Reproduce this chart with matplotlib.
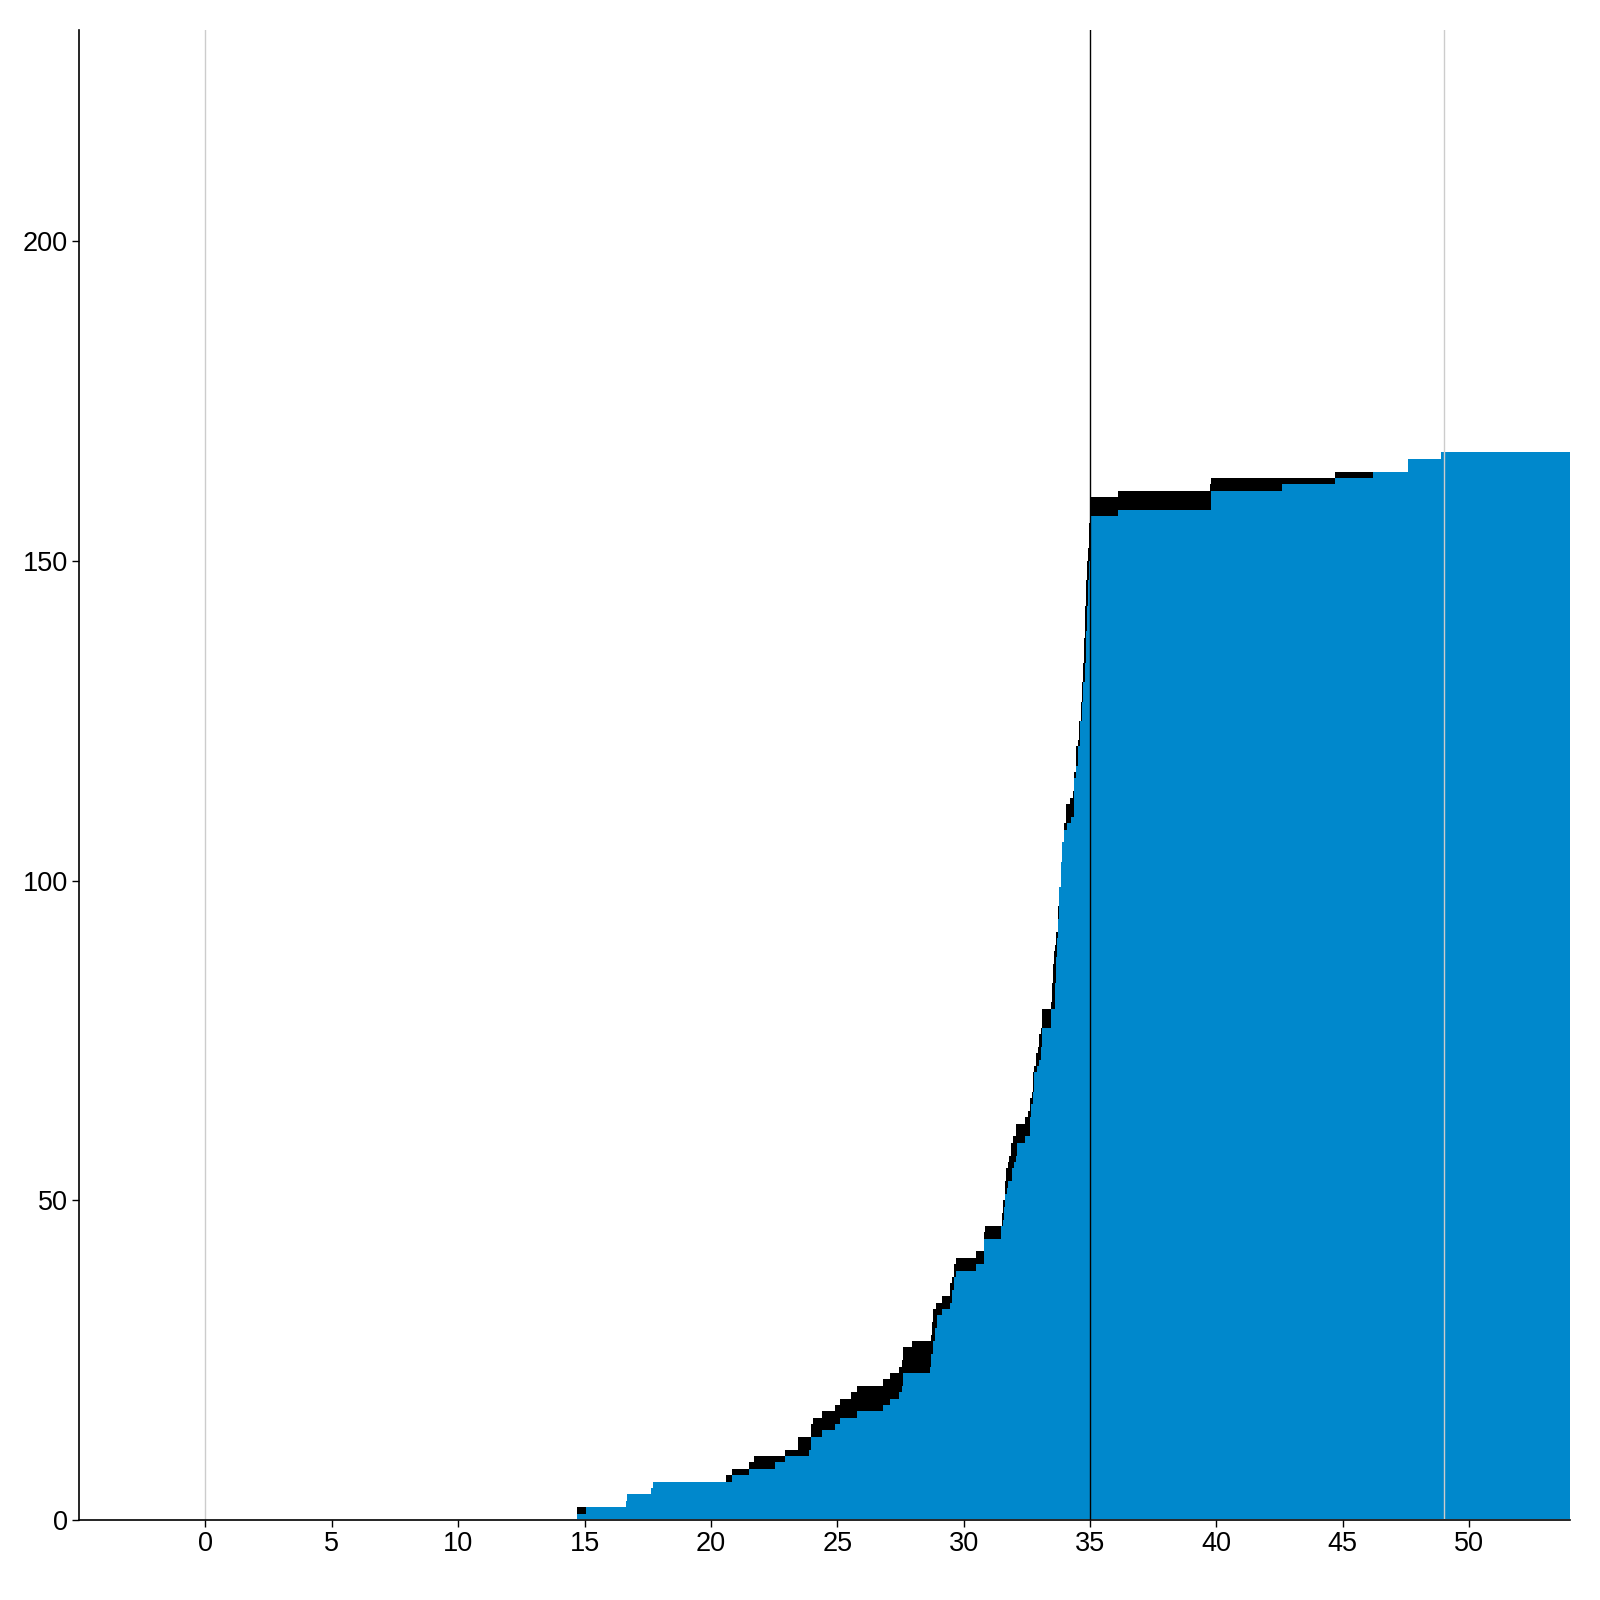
import matplotlib
matplotlib.use("Agg")
import matplotlib.pyplot as plt

plt.rcParams['font.family'] = ['Liberation Sans', 'DejaVu Sans']

# cumulative counts, step positions
blue_x = [14.70, 15.06, 16.64, 16.70, 17.63, 17.70, 20.84, 21.50, 22.54, 22.94,
          23.88, 23.97, 24.40, 24.90, 25.10, 25.80, 26.80, 27.10, 27.45, 27.56,
          27.60, 28.67, 28.70, 28.80, 28.85, 28.95, 29.15, 29.45, 29.55, 29.62,
          29.70, 30.50, 30.81, 31.48, 31.56, 31.60, 31.65, 31.70, 31.76, 31.93,
          31.98, 32.07, 32.12, 32.43, 32.63, 32.68, 32.75, 32.80, 32.90, 32.97,
          33.05, 33.10, 33.46, 33.60, 33.64, 33.68, 33.72, 33.78, 33.86, 33.90,
          33.98, 34.10, 34.26, 34.37, 34.45, 34.53, 34.61, 34.69, 34.73, 34.81,
          34.85, 34.89, 34.93, 34.96, 34.98, 35.00, 36.10, 39.80, 42.60, 44.70,
          46.20, 47.60, 48.90]
blue_y = [1, 2, 3, 4, 5, 6, 7, 8, 9, 10,
          11, 13, 14, 15, 16, 17, 18, 19, 20, 21,
          23, 24, 26, 28, 30, 32, 33, 34, 36, 38,
          39, 40, 44, 46, 47, 49, 51, 52, 53, 55,
          56, 57, 59, 60, 63, 65, 67, 70, 71, 72,
          74, 77, 80, 84, 88, 91, 94, 99, 103, 106,
          108, 109, 110, 116, 118, 121, 125, 128, 131, 134,
          139, 143, 147, 150, 152, 157, 158, 161, 162, 163,
          164, 166, 167]

black_x = [14.70, 16.64, 16.70, 17.63, 17.70, 20.60, 20.84, 21.50, 21.70, 22.94,
           23.45, 23.97, 24.05, 24.40, 24.90, 25.10, 25.55, 25.80, 26.80, 27.10,
           27.45, 27.56, 27.60, 27.96, 28.70, 28.75, 28.80, 28.90, 29.15, 29.45,
           29.55, 29.62, 29.70, 30.50, 30.81, 30.85, 31.50, 31.56, 31.62, 31.68,
           31.74, 31.80, 31.88, 31.95, 32.07, 32.43, 32.55, 32.63, 32.70, 32.75,
           32.80, 32.85, 32.95, 33.00, 33.05, 33.10, 33.46, 33.50, 33.55, 33.58,
           33.62, 33.66, 33.74, 33.78, 33.85, 33.89, 33.97, 34.05, 34.20, 34.31,
           34.35, 34.43, 34.51, 34.55, 34.63, 34.67, 34.71, 34.75, 34.79, 34.83,
           34.87, 34.91, 34.95, 35.00, 36.10, 39.75, 39.80, 44.70, 46.20, 47.60,
           48.90]
black_y = [2, 3, 4, 5, 6, 7, 8, 9, 10, 11,
           13, 15, 16, 17, 18, 19, 20, 21, 22, 23,
           24, 25, 27, 28, 29, 31, 33, 34, 35, 37,
           38, 40, 41, 42, 45, 46, 48, 50, 53, 55,
           56, 57, 59, 60, 62, 63, 64, 66, 67, 70,
           71, 73, 74, 76, 77, 80, 81, 84, 87, 89,
           90, 92, 96, 99, 102, 106, 109, 112, 113, 114,
           117, 121, 122, 125, 128, 131, 134, 138, 143, 147,
           150, 152, 156, 160, 161, 162, 163, 164, 164, 166,
           167]

x_end = 54
blue_color = '#0088CC'

fig = plt.figure(figsize=(16, 16), dpi=100)
ax = fig.add_axes([0.0494, 0.05, 0.932, 0.931])

bx = blue_x + [x_end]
by = blue_y + [blue_y[-1]]
kx = black_x + [x_end]
ky = black_y + [black_y[-1]]

ax.fill_between(kx, ky, 0.15, step='post', color='black', linewidth=0, zorder=2)
ax.fill_between(bx, by, 0.15, step='post', color=blue_color, linewidth=0, zorder=3)

ax.axvline(0, color='#cccccc', linewidth=1, zorder=4)
ax.axvline(35, color='black', linewidth=1, zorder=4)
ax.axvline(49, color='#cccccc', linewidth=1, zorder=4)

ax.set_xlim(-5, x_end)
ax.set_ylim(0, 233)
ax.set_xticks(range(0, 51, 5))
ax.set_yticks([0, 50, 100, 150, 200])

for s in ['top', 'right']:
    ax.spines[s].set_visible(False)
for s in ['left', 'bottom']:
    ax.spines[s].set_linewidth(1.2)
    ax.spines[s].set_zorder(5)

ax.tick_params(axis='both', labelsize=19.5, length=5, width=1, color='black')
ax.tick_params(axis='x', pad=3)
ax.tick_params(axis='y', pad=3)

fig.savefig('out.png', dpi=100)
